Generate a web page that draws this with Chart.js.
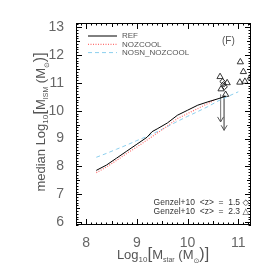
<!DOCTYPE html>
<html>
<head>
<meta charset="utf-8">
<script src="https://cdn.jsdelivr.net/npm/chart.js@4"></script>
<style>
  html, body { margin: 0; padding: 0; background: #fff; }
  #wrap { width: 274px; height: 274px; }
</style>
</head>
<body>
<div id="wrap"><canvas id="c" width="274" height="274"></canvas></div>
<script>
// log10 stellar mass bins and median ISM mass per model
const massBins   = [8.2, 8.4, 8.6, 8.8, 9.0, 9.2, 9.3, 9.4, 9.6, 9.8, 10.0, 10.2, 10.4, 10.6, 10.75];
const refIsm     = [7.86, 8.05, 8.3, 8.55, 8.8, 9.05, 9.25, 9.35, 9.56, 9.84, 10.02, 10.2, 10.32, 10.43, 10.52];
const nozMass    = [8.2, 8.4, 8.6, 8.8, 9.0, 9.2, 9.4, 9.6, 9.8, 10.0, 10.2, 10.4, 10.55];
const nozIsm     = [7.78, 7.98, 8.22, 8.47, 8.7, 8.95, 9.2, 9.45, 9.72, 9.9, 10.08, 10.26, 10.4];
const nosnMass   = [8.2, 8.4, 8.6, 8.8, 9.0, 9.2, 9.4, 9.6, 9.8, 10.0, 10.2, 10.4, 10.6, 10.8, 11.0];
const nosnIsm    = [8.33, 8.47, 8.62, 8.77, 8.93, 9.08, 9.25, 9.43, 9.62, 9.8, 9.97, 10.15, 10.35, 10.52, 10.68];

// Genzel+10 observations
const genz15X = [10.69, 10.71, 10.73];
const genz15Y = [11.05, 10.95, 10.86];
const genz23X = [10.64, 10.78, 10.66, 10.75, 11.04, 11.1, 11.03, 11.13, 11.24];
const genz23Y = [11.22, 11.0, 10.78, 10.58, 11.75, 11.4, 11.02, 11.05, 11.2];
// upper limits (arrows)
const limX      = [10.65, 10.72];
const limTop    = [10.58, 10.55];
const limBottom = [9.6, 9.3];

const xTicks = [8, 9, 10, 11];
const yTicks = [6, 7, 8, 9, 10, 11, 12, 13];

const pairs = (xs, ys) => xs.map((x, i) => ({ x: x, y: ys[i] }));
const TXT = '#555';
const FONT = '"Liberation Sans", "DejaVu Sans", sans-serif';

const datasets = [
  { label: 'REF', data: pairs(massBins, refIsm), showLine: true, borderColor: '#000',
    borderWidth: 1, pointRadius: 0, legend: true },
  { label: 'NOZCOOL', data: pairs(nozMass, nozIsm), showLine: true, borderColor: '#ff6f6f',
    borderWidth: 1.2, borderDash: [1, 1.5], pointRadius: 0, legend: true },
  { label: 'NOSN_NOZCOOL', data: pairs(nosnMass, nosnIsm), showLine: true, borderColor: '#8ccfee',
    borderWidth: 1, borderDash: [4, 3], pointRadius: 0, legend: true },
  { label: 'z15', data: pairs(genz15X, genz15Y), showLine: false, pointStyle: 'rectRot',
    pointRadius: 2.8, borderColor: '#222', backgroundColor: 'rgba(0,0,0,0)', pointBorderWidth: 1 },
  { label: 'z23', data: pairs(genz23X, genz23Y), showLine: false, pointStyle: 'triangle',
    pointRadius: 3.6, borderColor: '#222', backgroundColor: 'rgba(0,0,0,0)', pointBorderWidth: 0.9 }
];
limX.forEach((x, i) => {
  datasets.push({ label: 'lim' + i, data: [{ x: x, y: limTop[i] }, { x: x, y: limBottom[i] }],
    showLine: true, borderColor: '#888', borderWidth: 1, pointRadius: 0, arrow: true });
});

// draw a run of text pieces with sizes / baseline shifts
function drawRuns(ctx, runs, x, y, align) {
  let total = 0;
  runs.forEach(r => { ctx.font = r.size + 'px ' + FONT; total += ctx.measureText(r.t).width; });
  let cx = align === 'center' ? x - total / 2 : x;
  runs.forEach(r => {
    ctx.font = r.size + 'px ' + FONT;
    ctx.fillText(r.t, cx, y + (r.dy || 0));
    cx += ctx.measureText(r.t).width;
  });
}

const decor = {
  id: 'decor',
  afterDatasetsDraw(chart) {
    const { ctx, chartArea: a, scales: { x, y } } = chart;
    ctx.save();
    // arrow heads on upper limits
    chart.data.datasets.forEach((ds, i) => {
      if (!ds.arrow) return;
      const p = chart.getDatasetMeta(i).data[1];
      ctx.strokeStyle = '#555';
      ctx.lineWidth = 1;
      ctx.beginPath();
      ctx.moveTo(p.x - 3, p.y - 5);
      ctx.lineTo(p.x, p.y);
      ctx.lineTo(p.x + 3, p.y - 5);
      ctx.stroke();
    });

    // frame and inward ticks on all four sides
    ctx.strokeStyle = '#000';
    ctx.lineWidth = 1;
    ctx.strokeRect(a.left + 0.5, a.top + 0.5, a.right - a.left - 1, a.bottom - a.top - 1);
    ctx.beginPath();
    for (let v = 7.8; v <= 11.3; v += 0.1) {
      const xv = Math.round(v * 10) / 10;
      if (xv < x.min || xv > x.max) continue;
      const px = Math.round(x.getPixelForValue(xv)) + 0.5;
      const len = Math.abs(xv - Math.round(xv)) < 1e-6 ? 6 : (Math.abs(xv * 2 - Math.round(xv * 2)) < 1e-6 ? 4 : 2.5);
      ctx.moveTo(px, a.bottom); ctx.lineTo(px, a.bottom - len);
      ctx.moveTo(px, a.top); ctx.lineTo(px, a.top + len);
    }
    for (let v = 5.9; v <= 13.2; v += 0.1) {
      const yv = Math.round(v * 10) / 10;
      if (yv < y.min || yv > y.max) continue;
      const py = Math.round(y.getPixelForValue(yv)) + 0.5;
      const len = Math.abs(yv - Math.round(yv)) < 1e-6 ? 6 : (Math.abs(yv * 2 - Math.round(yv * 2)) < 1e-6 ? 4 : 2.5);
      ctx.moveTo(a.left, py); ctx.lineTo(a.left + len, py);
      ctx.moveTo(a.right, py); ctx.lineTo(a.right - len, py);
    }
    ctx.stroke();

    // legend inside plot
    ctx.textBaseline = 'middle';
    ctx.textAlign = 'left';
    let ly = 36;
    chart.data.datasets.filter(d => d.legend).forEach(d => {
      ctx.strokeStyle = d.borderColor;
      ctx.lineWidth = d.borderWidth;
      ctx.setLineDash(d.borderDash || []);
      ctx.beginPath();
      ctx.moveTo(88, ly); ctx.lineTo(117, ly);
      ctx.stroke();
      ctx.setLineDash([]);
      ctx.fillStyle = TXT;
      ctx.font = '8px ' + FONT;
      ctx.fillText(d.label, 122, ly);
      ly += 8.3;
    });
    ctx.font = '10px ' + FONT;
    ctx.fillText('(F)', 222, 41);

    // Genzel annotation
    ctx.textAlign = 'right';
    ctx.font = '8.5px ' + FONT;
    ctx.fillStyle = '#333';
    ctx.fillText('Genzel+10  <z>  =  1.5 \u25C7', 249, 203);
    ctx.fillText('Genzel+10  <z>  =  2.3 \u25B3', 249, 211.5);

    // axis titles
    ctx.fillStyle = TXT;
    ctx.textAlign = 'left';
    ctx.textBaseline = 'alphabetic';
    drawRuns(ctx, [
      { t: 'Log', size: 13 }, { t: '10', size: 8, dy: 3 }, { t: '[', size: 17 },
      { t: 'M', size: 13 }, { t: 'star', size: 7, dy: 3 }, { t: ' (M', size: 13 },
      { t: '\u2299', size: 7, dy: 4 }, { t: ')]', size: 16 }
    ], 163, 259, 'center');
    ctx.translate(45, 122);
    ctx.rotate(-Math.PI / 2);
    drawRuns(ctx, [
      { t: 'median Log', size: 13 }, { t: '10', size: 8, dy: 3 }, { t: '[', size: 17 },
      { t: 'M', size: 13 }, { t: 'ISM', size: 7, dy: 3 }, { t: ' (M', size: 13 },
      { t: '\u2299', size: 7, dy: 4 }, { t: ')]', size: 16 }
    ], 0, 0, 'center');
    ctx.restore();
  }
};

new Chart(document.getElementById('c').getContext('2d'), {
  type: 'scatter',
  data: { datasets: datasets },
  options: {
    responsive: false,
    animation: false,
    layout: { padding: { top: 23, right: 23, left: 0, bottom: 0 } },
    plugins: { legend: { display: false }, tooltip: { enabled: false } },
    scales: {
      x: {
        type: 'linear', min: 7.8, max: 11.25,
        afterBuildTicks: s => { s.ticks = xTicks.map(v => ({ value: v })); },
        afterFit: s => { s.height = 49; },
        grid: { display: false },
        border: { display: false },
        ticks: { color: '#666', font: { family: FONT, size: 14 }, padding: 2 }
      },
      y: {
        type: 'linear', min: 5.9, max: 13.15,
        afterBuildTicks: s => { s.ticks = yTicks.map(v => ({ value: v })); },
        afterFit: s => { s.width = 76; },
        grid: { display: false },
        border: { display: false },
        ticks: { color: '#666', font: { family: FONT, size: 14 }, padding: 4 }
      }
    }
  },
  plugins: [decor]
});
</script>
</body>
</html>
